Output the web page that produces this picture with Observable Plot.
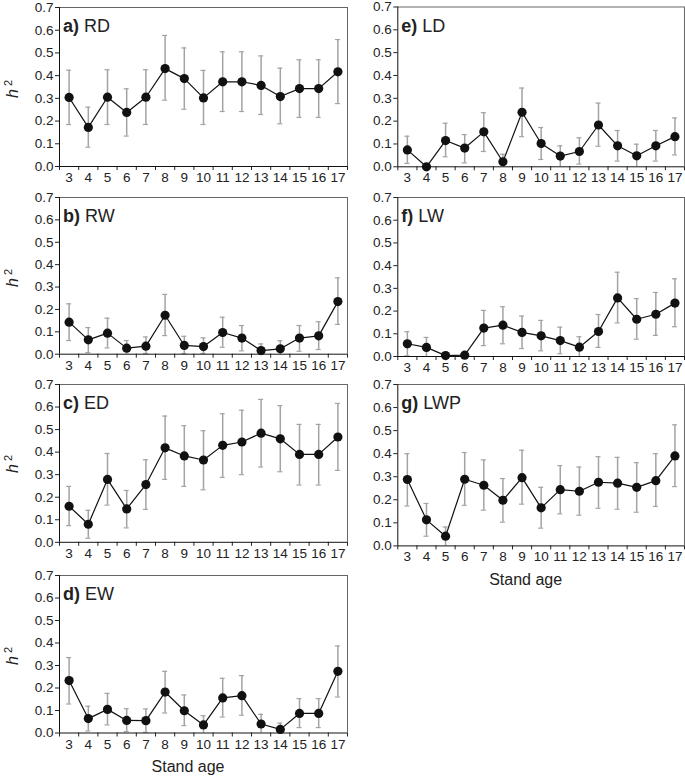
<!DOCTYPE html>
<html>
<head>
<meta charset="utf-8">
<script src="https://cdn.jsdelivr.net/npm/d3@7"></script>
<script src="https://cdn.jsdelivr.net/npm/@observablehq/plot@0.6"></script>
<style>
  html, body { margin: 0; padding: 0; background: #fff; }
  #chart { position: relative; width: 685px; height: 776px; font-family: "Liberation Sans", Arial, sans-serif; color: #222; }
  .panel { position: absolute; }
  .title { position: absolute; font-size: 18px; line-height: 1; white-space: nowrap; }
  .title b { font-weight: bold; }
  .ylab { position: absolute; font-size: 16px; white-space: nowrap; transform: translate(-50%, -50%) rotate(-90deg); }
  .ylab sup { font-size: 11px; vertical-align: 6px; margin-left: 3px; }
  .xlab { position: absolute; font-size: 16px; white-space: nowrap; transform: translateX(-50%); }
</style>
</head>
<body>
<div id="chart"></div>
<script>
// Stand age categories
const ages = [3, 4, 5, 6, 7, 8, 9, 10, 11, 12, 13, 14, 15, 16, 17];
const yTicks = [0, 0.1, 0.2, 0.3, 0.4, 0.5, 0.6, 0.7];

// a) RD
const RD    = [0.304, 0.172, 0.305, 0.238, 0.305, 0.431, 0.387, 0.302, 0.373, 0.373, 0.357, 0.308, 0.343, 0.343, 0.417];
const RD_lo = [0.185, 0.085, 0.185, 0.134, 0.185, 0.292, 0.252, 0.185, 0.242, 0.242, 0.229, 0.188, 0.216, 0.216, 0.277];
const RD_hi = [0.424, 0.261, 0.426, 0.342, 0.426, 0.577, 0.522, 0.423, 0.505, 0.505, 0.487, 0.433, 0.470, 0.470, 0.559];
// b) RW
const RW    = [0.143, 0.064, 0.094, 0.027, 0.036, 0.174, 0.039, 0.034, 0.097, 0.072, 0.016, 0.024, 0.072, 0.082, 0.235];
const RW_lo = [0.061, 0.007, 0.028, 0.000, 0.003, 0.083, 0.003, 0.003, 0.031, 0.015, 0.000, 0.000, 0.013, 0.021, 0.133];
const RW_hi = [0.225, 0.119, 0.161, 0.061, 0.077, 0.267, 0.080, 0.073, 0.165, 0.128, 0.046, 0.060, 0.128, 0.145, 0.341];
// c) ED
const ED    = [0.160, 0.080, 0.279, 0.148, 0.256, 0.419, 0.383, 0.365, 0.430, 0.445, 0.484, 0.459, 0.390, 0.390, 0.467];
const ED_lo = [0.074, 0.018, 0.165, 0.064, 0.146, 0.279, 0.248, 0.233, 0.288, 0.300, 0.334, 0.313, 0.254, 0.254, 0.319];
const ED_hi = [0.248, 0.142, 0.394, 0.230, 0.366, 0.560, 0.517, 0.495, 0.570, 0.586, 0.634, 0.606, 0.523, 0.523, 0.616];
// d) EW
const EW    = [0.233, 0.064, 0.105, 0.056, 0.055, 0.182, 0.099, 0.036, 0.156, 0.166, 0.040, 0.016, 0.087, 0.087, 0.274];
const EW_lo = [0.129, 0.009, 0.036, 0.006, 0.003, 0.089, 0.033, 0.000, 0.071, 0.079, 0.000, 0.000, 0.024, 0.024, 0.160];
const EW_hi = [0.335, 0.119, 0.176, 0.108, 0.107, 0.274, 0.169, 0.077, 0.243, 0.255, 0.083, 0.044, 0.153, 0.153, 0.387];
// e) LD
const LD    = [0.074, 0.000, 0.115, 0.082, 0.153, 0.022, 0.239, 0.102, 0.047, 0.067, 0.183, 0.092, 0.048, 0.092, 0.132];
const LD_lo = [0.015, 0.000, 0.044, 0.017, 0.067, 0.000, 0.132, 0.032, 0.000, 0.012, 0.090, 0.025, 0.000, 0.025, 0.052];
const LD_hi = [0.134, 0.000, 0.191, 0.141, 0.237, 0.055, 0.345, 0.172, 0.092, 0.127, 0.279, 0.159, 0.099, 0.159, 0.214];
// f) LW
const LW    = [0.056, 0.040, 0.004, 0.006, 0.125, 0.138, 0.106, 0.091, 0.070, 0.041, 0.110, 0.258, 0.164, 0.186, 0.235];
const LW_lo = [0.003, 0.000, 0.004, 0.006, 0.048, 0.056, 0.035, 0.025, 0.012, 0.000, 0.040, 0.148, 0.076, 0.093, 0.131];
const LW_hi = [0.109, 0.084, 0.004, 0.006, 0.203, 0.219, 0.178, 0.159, 0.129, 0.087, 0.185, 0.371, 0.255, 0.282, 0.342];
// g) LWP
const LWP    = [0.288, 0.113, 0.042, 0.289, 0.263, 0.198, 0.296, 0.165, 0.244, 0.237, 0.276, 0.272, 0.254, 0.283, 0.390];
const LWP_lo = [0.173, 0.042, 0.000, 0.176, 0.155, 0.103, 0.181, 0.077, 0.139, 0.133, 0.163, 0.159, 0.146, 0.171, 0.257];
const LWP_hi = [0.400, 0.184, 0.082, 0.405, 0.373, 0.292, 0.415, 0.254, 0.348, 0.342, 0.387, 0.384, 0.361, 0.400, 0.525];

const panels = [
  {letter: "a)", name: "RD",  v: RD,  lo: RD_lo,  hi: RD_hi,  col: 0, top: 7,     bottom: 166,   xlab: false},
  {letter: "b)", name: "RW",  v: RW,  lo: RW_lo,  hi: RW_hi,  col: 0, top: 197.3, bottom: 354,   xlab: false},
  {letter: "c)", name: "ED",  v: ED,  lo: ED_lo,  hi: ED_hi,  col: 0, top: 383.5, bottom: 541.3, xlab: false},
  {letter: "d)", name: "EW",  v: EW,  lo: EW_lo,  hi: EW_hi,  col: 0, top: 574.8, bottom: 732.3, xlab: true},
  {letter: "e)", name: "LD",  v: LD,  lo: LD_lo,  hi: LD_hi,  col: 1, top: 6.5,   bottom: 166.3, xlab: false},
  {letter: "f)", name: "LW",  v: LW,  lo: LW_lo,  hi: LW_hi,  col: 1, top: 197.3, bottom: 356.3, xlab: false},
  {letter: "g)", name: "LWP", v: LWP, lo: LWP_lo, hi: LWP_hi, col: 1, top: 383.6, bottom: 545,   xlab: true}
];

const cols = [
  {L: 0,   W: 350, axis: 59,    right: 347, ylab: true},
  {L: 340, W: 345, axis: 397.3, right: 684, ylab: false}
];

const chart = document.getElementById("chart");
const bounds = ages.map(a => a - 0.5).concat([ages[ages.length - 1] + 0.5]);

for (const p of panels) {
  const c = cols[p.col];
  const T = Math.max(0, p.top - 8);
  const H = (p.bottom - T) + 26;
  const data = ages.map((a, i) => ({age: a, v: p.v[i], lo: p.lo[i], hi: p.hi[i]}));
  const bars = data.filter(d => d.hi > d.lo);
  const svg = Plot.plot({
    width: c.W,
    height: H,
    marginLeft: c.axis - c.L,
    marginRight: c.L + c.W - c.right,
    marginTop: p.top - T,
    marginBottom: T + H - p.bottom,
    style: {fontFamily: '"Liberation Sans", Arial, sans-serif', fontSize: "13.5px", color: "#222", background: "transparent", overflow: "visible"},
    x: {domain: [bounds[0], bounds[bounds.length - 1]]},
    y: {domain: [0, 0.7]},
    marks: [
      // frame top/right
      Plot.ruleY([0.7], {stroke: "#666"}),
      Plot.ruleX([bounds[bounds.length - 1]], {stroke: "#666"}),
      // error bars
      Plot.ruleX(bars, {x: "age", y1: "lo", y2: "hi", stroke: "#a3a3a3", strokeWidth: 1.5}),
      Plot.ruleY(bars, {y: "hi", x1: d => d.age - 0.13, x2: d => d.age + 0.13, stroke: "#a3a3a3", strokeWidth: 1.2}),
      Plot.ruleY(bars.filter(d => d.lo > 0), {y: "lo", x1: d => d.age - 0.13, x2: d => d.age + 0.13, stroke: "#a3a3a3", strokeWidth: 1.2}),
      // line and points
      Plot.line(data, {x: "age", y: "v", stroke: "#111", strokeWidth: 1.2}),
      Plot.dot(data, {x: "age", y: "v", r: 4.6, fill: "#111", stroke: "none"}),
      // axes
      Plot.axisY({ticks: yTicks, tickFormat: d3.format(".1f"), tickSize: 4, tickPadding: 2, label: null, stroke: "#222"}),
      Plot.axisX({ticks: ages, tickSize: 0, tickPadding: 6, label: null, tickFormat: d => String(d)}),
      Plot.axisX({ticks: bounds, tickSize: 4, tickFormat: () => "", label: null, stroke: "#222"}),
      Plot.ruleY([0], {stroke: "#111"}),
      Plot.ruleX([bounds[0]], {stroke: "#111"})
    ]
  });
  svg.classList.add("panel");
  svg.style.left = c.L + "px";
  svg.style.top = T + "px";
  chart.appendChild(svg);

  const t = document.createElement("div");
  t.className = "title";
  t.innerHTML = `<b>${p.letter}</b> ${p.name}`;
  t.style.left = (c.axis + 4) + "px";
  t.style.top = (p.top + 10) + "px";
  chart.appendChild(t);

  if (c.ylab) {
    const yl = document.createElement("div");
    yl.className = "ylab";
    yl.innerHTML = `<i>h</i><sup>2</sup>`;
    yl.style.left = (c.L + 12) + "px";
    yl.style.top = ((p.top + p.bottom) / 2 + 2) + "px";
    chart.appendChild(yl);
  }

  if (p.xlab) {
    const xl = document.createElement("div");
    xl.className = "xlab";
    xl.textContent = "Stand age";
    xl.style.left = ((c.axis + c.right) / 2 - 15) + "px";
    xl.style.top = (p.bottom + 26) + "px";
    chart.appendChild(xl);
  }
}
</script>
</body>
</html>
